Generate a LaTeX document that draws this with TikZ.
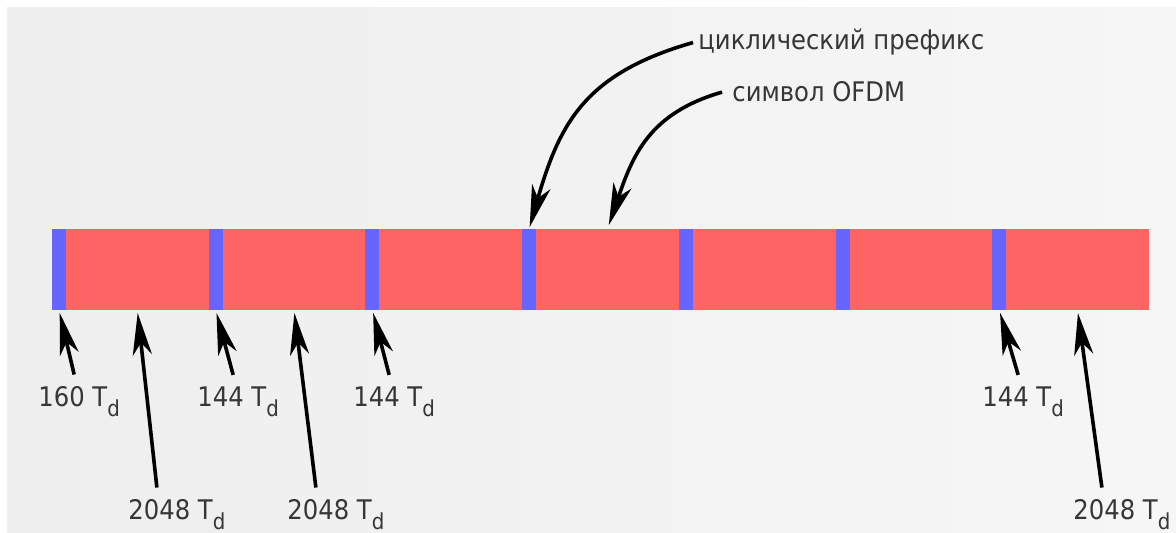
\documentclass[tikz,border=0pt]{standalone}
\usepackage{fontspec}
\setmainfont{DejaVu Sans}[FakeStretch=0.9]
\usetikzlibrary{arrows.meta, positioning}
\definecolor{bgleft}{HTML}{EEEEEE}
\definecolor{bgright}{HTML}{F6F6F6}
\definecolor{symred}{HTML}{FF6464}
\definecolor{cpblue}{HTML}{6666FF}
\definecolor{labelgrey}{HTML}{363636}
\newcommand{\Td}{T\raisebox{-5pt}{\fontsize{11}{11}\selectfont d}}
\tikzstyle{cp} = [rectangle, 
			fill=cpblue, 
			inner sep=0, outer sep=0, 
			minimum width=7pt, 
			minimum height=40.5pt]
\tikzstyle{sym} = [rectangle, 
			fill=symred, 
			inner sep=0, outer sep=0, 
			minimum width=71.35pt, 
			minimum height=40.5pt]
\tikzstyle{dur} = [text=labelgrey, 
			font=\fontsize{13.5}{16}\selectfont, 
			inner xsep=0, inner ysep=6pt, 
			anchor=base west]
\tikzstyle{pointer} = [line width=1.8pt, 
			-{Stealth[length=21pt, width=9.5pt, inset=6pt]}]

\begin{document}
\begin{tikzpicture}[x=0.5pt, y=0.5pt]
	\fill [white] (0,0) rectangle (1176,533);
	\shade [left color=bgleft, right color=bgright] (7,0) rectangle (1176,525);
	\useasboundingbox (0,0) rectangle (1176,533);
	\node [cp, anchor=west] (cp1) at (52,263.5) {};
	\node [sym, right=0pt of cp1] (sym1) {};
	\node [cp, right=0pt of sym1] (cp2) {};
	\node [sym, right=0pt of cp2] (sym2) {};
	\node [cp, right=0pt of sym2] (cp3) {};
	\node [sym, right=0pt of cp3] (sym3) {};
	\node [cp, right=0pt of sym3] (cp4) {};
	\node [sym, right=0pt of cp4] (sym4) {};
	\node [cp, right=0pt of sym4] (cp5) {};
	\node [sym, right=0pt of cp5] (sym5) {};
	\node [cp, right=0pt of sym5] (cp6) {};
	\node [sym, right=0pt of cp6] (sym6) {};
	\node [cp, right=0pt of sym6] (cp7) {};
	\node [sym, right=0pt of cp7] (sym7) {};
	\node [dur, inner ysep=0] (cp-text) at (698,483) {циклический префикс};
	\node [dur, inner ysep=0] (sym-text) at (732,431) {символ OFDM};
	\node [dur] (cp1-len) at (38,126) {160 \Td};
	\node [dur] (sym1-len) at (128,13) {2048 \Td};
	\node [dur] (cp2-len) at (197,126) {144 \Td};
	\node [dur] (sym2-len) at (287,13) {2048 \Td};
	\node [dur] (cp3-len) at (353,126) {144 \Td};
	\node [dur] (cp7-len) at (982,126) {144 \Td};
	\node [dur] (sym7-len) at (1073,13) {2048 \Td};
	\draw [pointer, shorten >=1pt] ([xshift=-2.5pt]cp-text.west) to[out=196, in=74, looseness=1.15] (cp4.north);
	\draw [pointer, shorten >=2pt] ([xshift=-5pt]sym-text.west) to[out=196, in=71, looseness=1.1] (sym4.north);
	\draw [pointer, shorten >=1.5pt] ([xshift=-2.5pt]cp1-len.north) -- (cp1.south);
	\draw [pointer, shorten >=1.5pt] ([xshift=-10pt]sym1-len.north) -- (sym1.south);
	\draw [pointer, shorten >=1.5pt] ([xshift=-2.5pt]cp2-len.north) -- (cp2.south);
	\draw [pointer, shorten >=1.5pt] ([xshift=-10pt]sym2-len.north) -- (sym2.south);
	\draw [pointer, shorten >=1.5pt] ([xshift=-2.5pt]cp3-len.north) -- (cp3.south);
	\draw [pointer, shorten >=1.5pt] ([xshift=-2.5pt]cp7-len.north) -- (cp7.south);
	\draw [pointer, shorten >=1.5pt] ([xshift=-10pt]sym7-len.north) -- (sym7.south);
\end{tikzpicture}
\end{document}
